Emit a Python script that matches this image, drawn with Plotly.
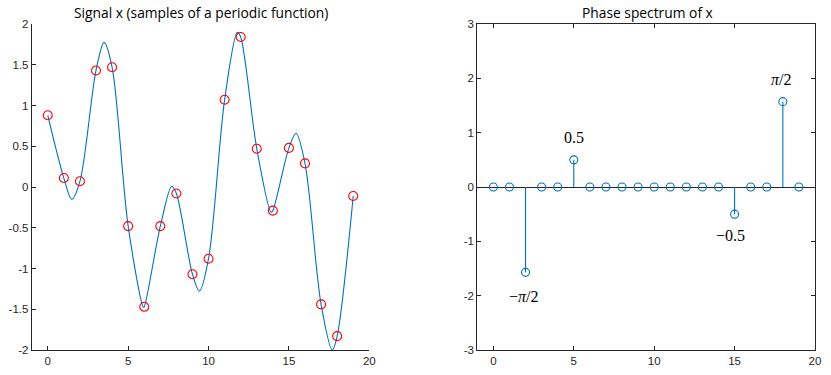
import plotly.graph_objects as go
import math

# ---- data ----
n_samples = list(range(20))
x_samples = [0.88, 0.11, 0.07, 1.43, 1.47, -0.48, -1.47, -0.48, -0.08, -1.07,
             -0.88, 1.07, 1.84, 0.47, -0.29, 0.48, 0.29, -1.44, -1.83, -0.11]

# smooth curve (samples plus visible extrema)
curve_t = [0, 1, 1.49, 2, 3, 3.5, 4, 5, 5.95, 6, 7, 7.71, 8, 9, 9.43, 10, 11, 11.79, 12,
           13, 13.89, 14, 15, 15.44, 16, 17, 17.7, 18, 19]
curve_v = [0.88, 0.11, -0.15, 0.07, 1.43, 1.775, 1.47, -0.48, -1.475, -1.47, -0.48, 0.01, -0.08,
           -1.07, -1.277, -0.88, 1.07, 1.897, 1.84, 0.47, -0.31, -0.29, 0.48, 0.66, 0.29,
           -1.44, -2.0, -1.83, -0.11]

k_bins = list(range(20))
phase = [0, 0, -math.pi / 2, 0, 0, 0.5, 0, 0, 0, 0, 0, 0, 0, 0, 0, -0.5, 0, 0, math.pi / 2, 0]

label_k = [5, 18, 2, 15]
label_y = [0.92, 1.98, -2.01, -0.89]
label_dx = [0.04, -0.13, -0.12, -0.28]
label_text = ["0.5", "<i>π</i>/2", "−<i>π</i>/2", "−0.5"]

left_yticks = [-2, -1.5, -1, -0.5, 0, 0.5, 1, 1.5, 2]
left_yticktext = ["-2", "-1.5", "-1", "-0.5", "0", "0.5", "1", "1.5", "2"]
right_yticks = [-3, -2, -1, 0, 1, 2, 3]
right_yticktext = ["-3", "-2", "-1", "0", "1", "2", "3"]
xticks = [0, 5, 10, 15, 20]

BLUE = "#0072BD"
AX = "#262626"

fig = go.Figure()

fig.add_trace(go.Scatter(x=curve_t, y=curve_v, mode="lines",
                         line=dict(color=BLUE, width=1.1, shape="spline", smoothing=0.9),
                         xaxis="x", yaxis="y", showlegend=False, hoverinfo="skip"))
fig.add_trace(go.Scatter(x=n_samples, y=x_samples, mode="markers",
                         marker=dict(symbol="circle-open", size=9, color="#FF0000",
                                     line=dict(width=1.1, color="#FF0000")),
                         xaxis="x", yaxis="y", showlegend=False))

stem_x, stem_y = [], []
for k, v in zip(k_bins, phase):
    if v != 0:
        stem_x += [k, k, None]
        stem_y += [0, v, None]
fig.add_trace(go.Scatter(x=stem_x, y=stem_y, mode="lines",
                         line=dict(color=BLUE, width=1.1),
                         xaxis="x2", yaxis="y2", showlegend=False))
fig.add_trace(go.Scatter(x=k_bins, y=phase, mode="markers",
                         marker=dict(symbol="circle-open", size=8, color=BLUE,
                                     line=dict(width=1.1, color=BLUE)),
                         xaxis="x2", yaxis="y2", showlegend=False))

for k, yv, dx, t in zip(label_k, label_y, label_dx, label_text):
    fig.add_annotation(x=k + dx, y=yv, xref="x2", yref="y2", text=t, showarrow=False,
                       font=dict(family="Liberation Serif", size=16, color="#000000"))

tickfont = dict(family="Liberation Sans, Arial", size=11.5, color=AX)
common_ax = dict(showgrid=False, ticks="inside", ticklen=4, tickwidth=1, tickcolor=AX,
                 showline=True, linecolor=AX, linewidth=1, tickfont=tickfont,
                 automargin=False)

W, H = 831, 375
def fx(px):
    return px / W
def fy(py):
    return (H - py) / H

fig.update_layout(
    width=W, height=H,
    margin=dict(l=0, r=0, t=0, b=0, autoexpand=False),
    paper_bgcolor="white", plot_bgcolor="white",
    xaxis=dict(domain=[fx(31.7), fx(369.3)], range=[-1, 20], tickvals=xticks,
               zeroline=False, anchor="y", **common_ax),
    yaxis=dict(domain=[fy(350), fy(24)], range=[-2, 2], tickvals=left_yticks,
               ticktext=left_yticktext, zeroline=False, anchor="x", **common_ax),
    xaxis2=dict(domain=[fx(477.3), fx(815)], range=[-1, 20], tickvals=xticks,
                zeroline=False, anchor="y2", mirror="ticks", **common_ax),
    yaxis2=dict(domain=[fy(350), fy(24)], range=[-3, 3], tickvals=right_yticks,
                ticktext=right_yticktext, zeroline=True, zerolinecolor=AX,
                zerolinewidth=1, anchor="x2", mirror="ticks", **common_ax),
    annotations=list(fig.layout.annotations) + [
        dict(text="Signal x (samples of a periodic function)", x=fx(201), y=fy(12),
             xref="paper", yref="paper", showarrow=False, xanchor="center", yanchor="middle",
             font=dict(family="Open Sans", size=13.8, color="#000000")),
        dict(text="Phase spectrum of x", x=fx(647), y=fy(12),
             xref="paper", yref="paper", showarrow=False, xanchor="center", yanchor="middle",
             font=dict(family="Open Sans", size=13.8, color="#000000")),
    ],
)

fig.write_html("out.html", config={"displayModeBar": False},
               post_script="document.body.style.margin='0';document.body.style.overflow='hidden';")
